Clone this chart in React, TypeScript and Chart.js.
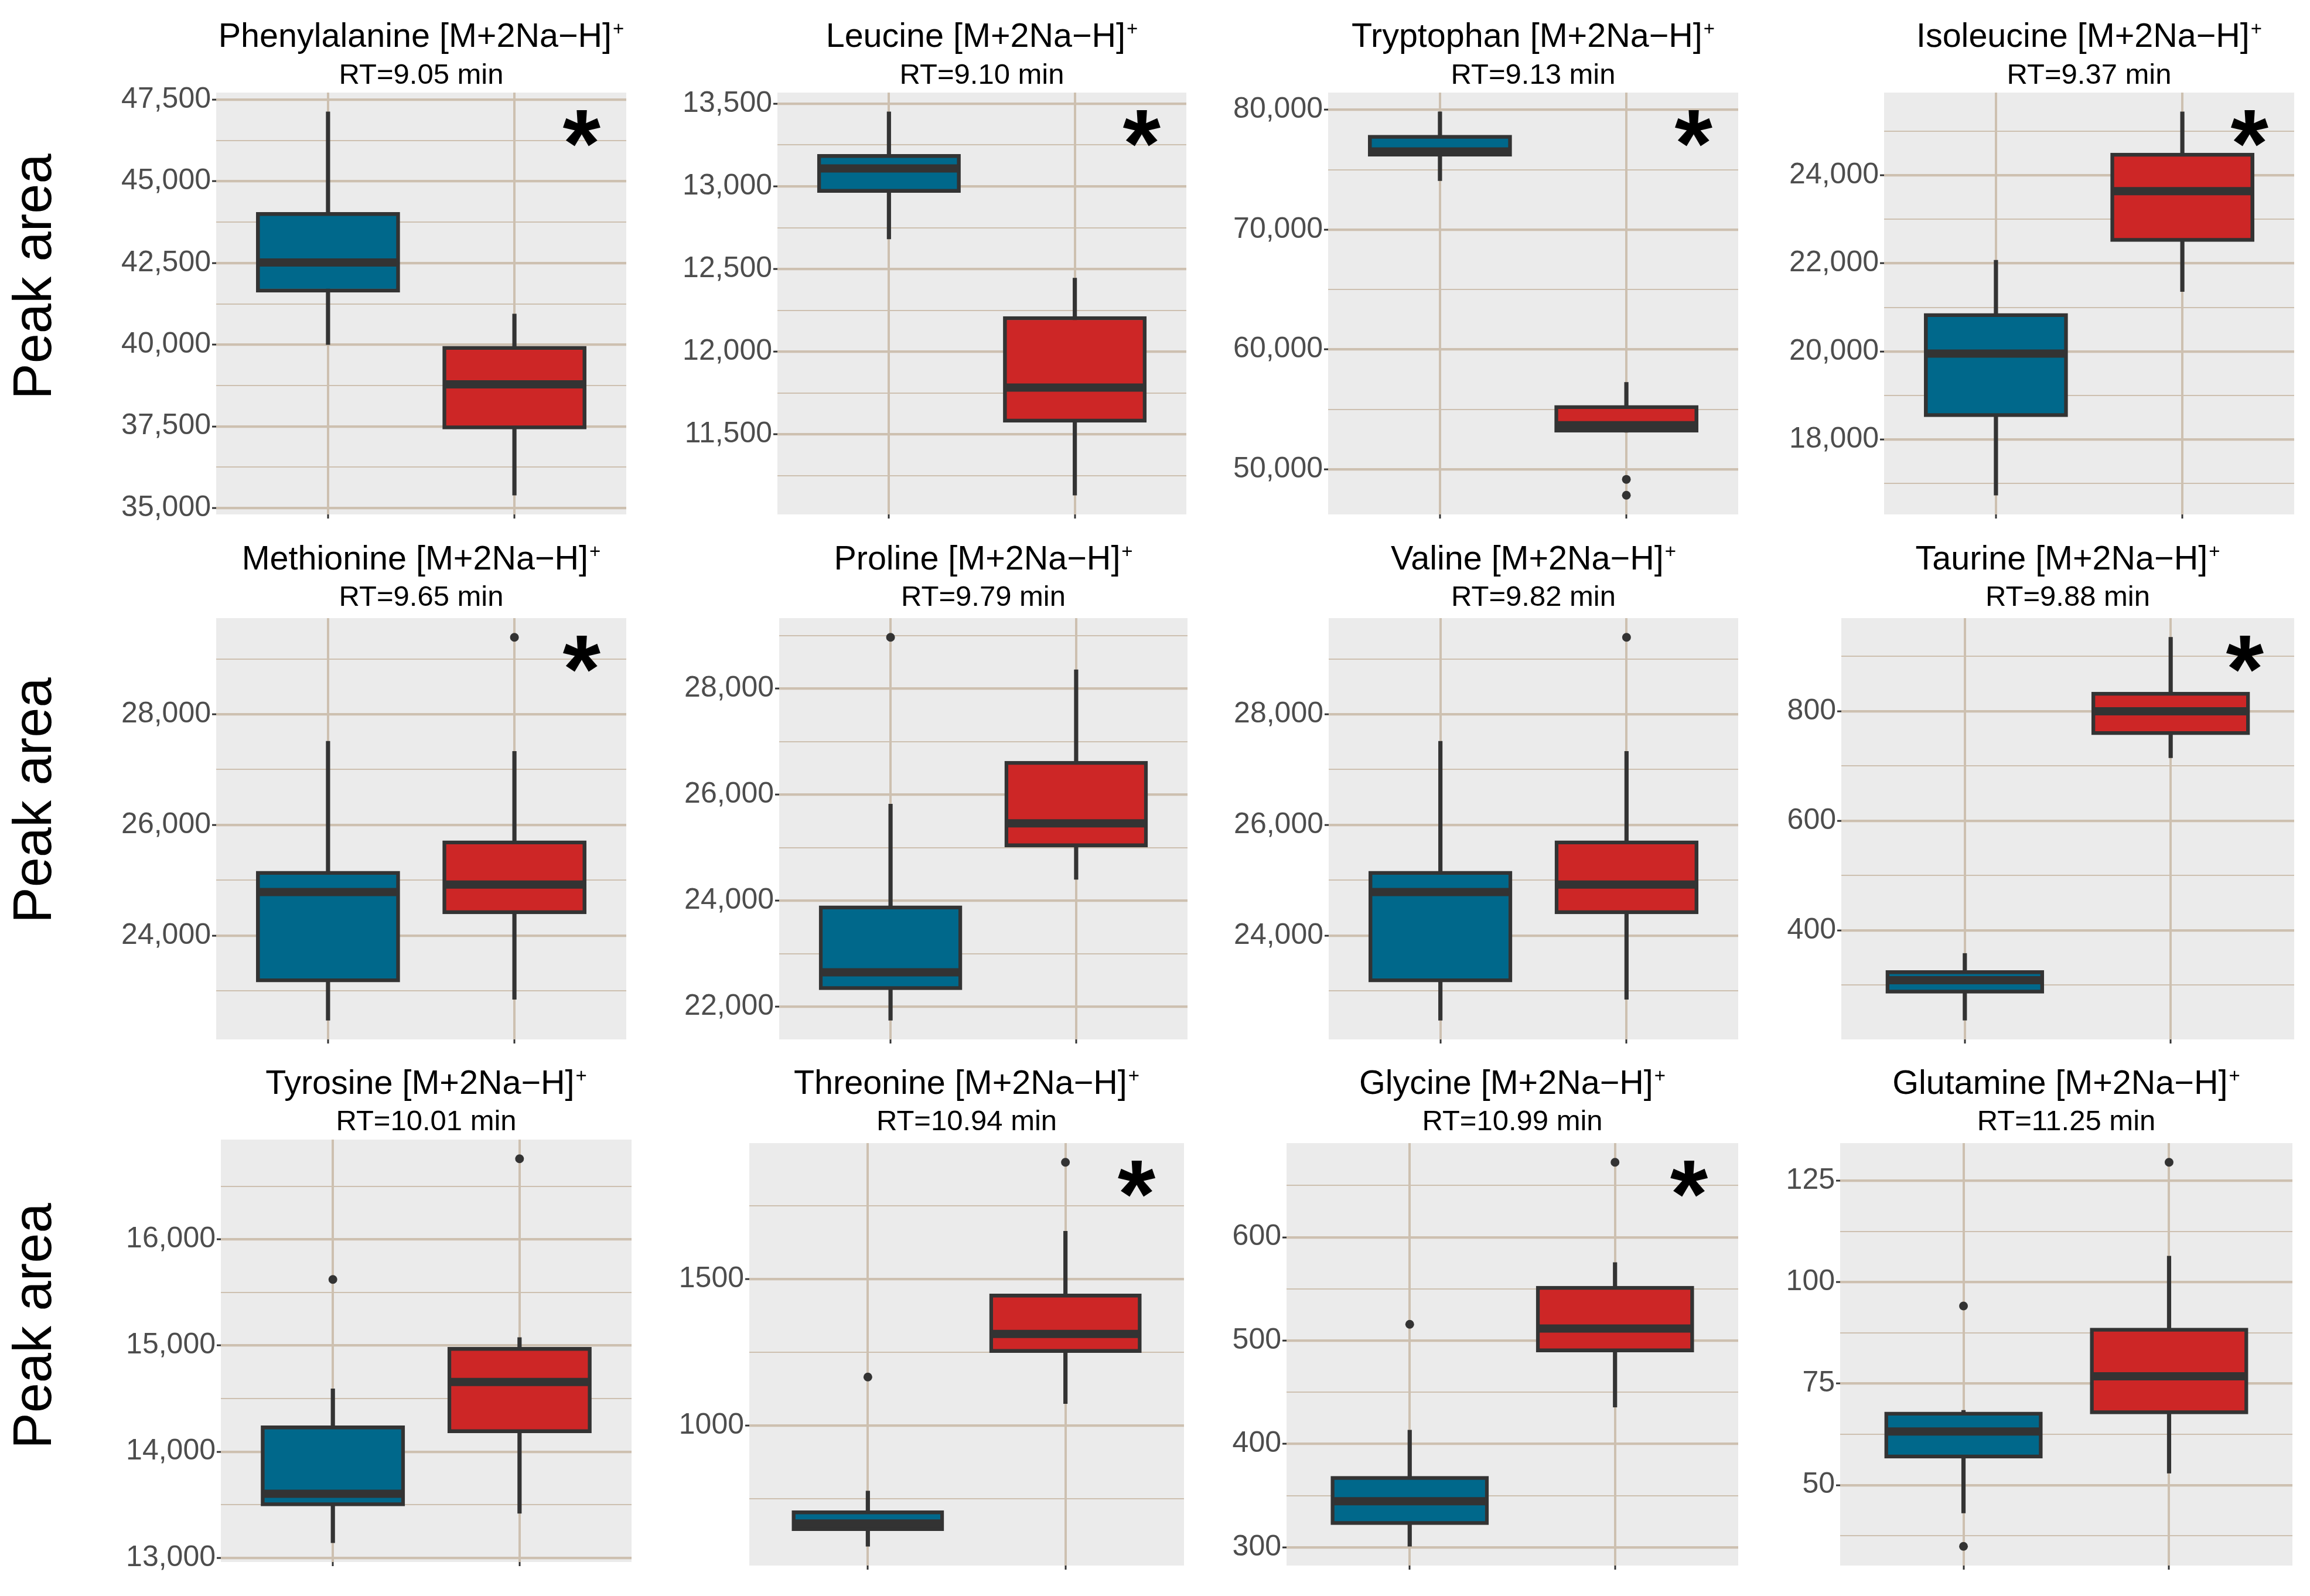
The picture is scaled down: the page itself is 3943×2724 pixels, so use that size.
import React, { useEffect, useRef } from 'react';
import { Chart, registerables } from 'chart.js';

Chart.register(...registerables);

const FONT = "'Liberation Sans', Arial, Helvetica, sans-serif";
Chart.defaults.font.family = FONT;

// ---------------- data ----------------
const compounds = [
  'Phenylalanine', 'Leucine', 'Tryptophan', 'Isoleucine',
  'Methionine', 'Proline', 'Valine', 'Taurine',
  'Tyrosine', 'Threonine', 'Glycine', 'Glutamine',
];
const adduct = '[M+2Na\u2212H]';
const adductCharge = '+';
const retentionTimes = ['9.05', '9.10', '9.13', '9.37', '9.65', '9.79', '9.82', '9.88', '10.01', '10.94', '10.99', '11.25'];
const significant = [true, true, true, true, true, false, false, true, false, true, true, false];
const yAxisTitle = 'Peak area';
const groupPositions = [1, 2];

// five-number summaries: [lower whisker, Q1, median, Q3, upper whisker]
const blueStats = [
  [40000, 41600, 42515, 44050, 47130],
  [12681, 12962, 13108, 13194, 13451],
  [74074, 76105, 76520, 77883, 79831],
  [16732, 18514, 19951, 20865, 22072],
  [22469, 23158, 24786, 25164, 27512],
  [21746, 22319, 22650, 23905, 25822],
  [22469, 23158, 24786, 25164, 27512],
  [236, 285, 309, 327, 358],
  [13141, 13488, 13603, 14245, 14592],
  [588, 641, 666, 710, 777],
  [301, 321.8, 344.6, 368.8, 413.4],
  [43.1, 56.6, 63.2, 68.0, 68.4],
];
const redStats = [
  [35390, 37415, 38785, 39955, 40940],
  [11131, 11572, 11782, 12213, 12445],
  [53080, 53080, 53670, 55336, 57254],
  [21357, 22494, 23639, 24507, 25444],
  [22847, 24390, 24920, 25713, 27329],
  [24402, 25013, 25459, 26631, 28357],
  [22847, 24390, 24920, 25713, 27329],
  [715, 757, 800, 835, 935],
  [13419, 14176, 14657, 14985, 15076],
  [1075, 1249, 1313, 1450, 1664],
  [435.6, 488.9, 511.7, 552.7, 575.5],
  [52.9, 67.5, 76.8, 88.7, 106.4],
];
const blueOutliers = [[], [], [], [], [], [28968], [], [], [15623], [1166], [515.8], [94.1, 34.9]];
const redOutliers = [[], [], [49155, 47829], [], [29390], [], [29390], [], [16760], [1899], [672.5], [129.5]];

const yTickValues = [
  [35000, 37500, 40000, 42500, 45000, 47500],
  [11500, 12000, 12500, 13000, 13500],
  [50000, 60000, 70000, 80000],
  [18000, 20000, 22000, 24000],
  [24000, 26000, 28000],
  [22000, 24000, 26000, 28000],
  [24000, 26000, 28000],
  [400, 600, 800],
  [13000, 14000, 15000, 16000],
  [1000, 1500],
  [300, 400, 500, 600],
  [50, 75, 100, 125],
];
const yTickLabels = [
  ['35,000', '37,500', '40,000', '42,500', '45,000', '47,500'],
  ['11,500', '12,000', '12,500', '13,000', '13,500'],
  ['50,000', '60,000', '70,000', '80,000'],
  ['18,000', '20,000', '22,000', '24,000'],
  ['24,000', '26,000', '28,000'],
  ['22,000', '24,000', '26,000', '28,000'],
  ['24,000', '26,000', '28,000'],
  ['400', '600', '800'],
  ['13,000', '14,000', '15,000', '16,000'],
  ['1000', '1500'],
  ['300', '400', '500', '600'],
  ['50', '75', '100', '125'],
];

// ---------------- layout & style ----------------
// plot-area rectangles [left, top, right, bottom] in page pixels
const PANEL_RECTS = [
  [369, 158, 1069, 878], [1327, 158, 2025, 878], [2267, 158, 2967, 878], [3216, 158, 3916, 878],
  [369, 1055, 1069, 1774], [1330, 1055, 2027, 1774], [2268, 1055, 2967, 1774], [3143, 1055, 3916, 1774],
  [377, 1945, 1078, 2666], [1279, 1951, 2021, 2672], [2196, 1951, 2967, 2672], [3141, 1951, 3913, 2672],
];
const TITLE_BASELINES = [[80, 142.5], [972, 1034], [1867, 1928.5]];
const YLABEL_CENTERS = [472, 1366, 2263];
const YLABEL_BASELINE_X = 87;

const TITLE_SIZE = 57.5;
const SUP_SIZE = 33;
const SUP_RAISE = 20;
const SUB_SIZE = 49;
const TICK_SIZE = 50;
const YLABEL_SIZE = 92;

const GROUP_COLORS = ['#00688B', '#CD2626'];
const LINE_COLOR = '#333333';
const GRID_COLOR = '#CDC0B0';
const PANEL_BG = '#EBEBEB';
const TICK_TEXT = '#4D4D4D';

const X_MIN = 0.4;
const X_MAX = 2.6;
const BOX_WIDTH = 0.75;
const BOX_LINE = 6.5;
const MEDIAN_LINE = 14;
const WHISKER_LINE = 6.5;
const STAR_X = 2.36;
const STAR_DY = 61;
const STAR_H = 63;

const AXIS_W = 210;
const TOP_PAD = 160;
const RIGHT_PAD = 22;
const BOTTOM_PAD = 40;

function geometry(i: number) {
  const [L, T, R, B] = PANEL_RECTS[i];
  const col = i % 4;
  const row = Math.floor(i / 4);
  const axisW = col === 0 ? L : AXIS_W;
  const topPad = Math.min(TOP_PAD, T);
  const x = L - axisW;
  const y = T - topPad;
  const w = axisW + (R - L) + RIGHT_PAD;
  const h = topPad + (B - T) + BOTTOM_PAD;
  return { L, T, R, B, col, row, axisW, topPad, x, y, w, h };
}

const decorPlugin = {
  id: 'panelDecor',
  beforeDraw(chart: any) {
    const { ctx, chartArea: a } = chart;
    ctx.save();
    ctx.fillStyle = PANEL_BG;
    ctx.fillRect(a.left, a.top, a.right - a.left, a.bottom - a.top);
    ctx.restore();
  },
  afterDraw(chart: any, _args: any, o: any) {
    const { ctx, chartArea: a } = chart;
    const cx = (a.left + a.right) / 2;
    ctx.save();
    ctx.fillStyle = '#000000';
    ctx.textBaseline = 'alphabetic';
    // main title with superscript charge
    ctx.font = `${TITLE_SIZE}px ${FONT}`;
    const mw = ctx.measureText(o.title).width;
    ctx.font = `${SUP_SIZE}px ${FONT}`;
    const sw = ctx.measureText(adductCharge).width;
    const x0 = cx - (mw + sw + 2) / 2;
    ctx.textAlign = 'left';
    ctx.font = `${TITLE_SIZE}px ${FONT}`;
    ctx.fillText(o.title, x0, o.titleY);
    ctx.font = `${SUP_SIZE}px ${FONT}`;
    ctx.fillText(adductCharge, x0 + mw + 2, o.titleY - SUP_RAISE);
    // retention time line
    ctx.textAlign = 'center';
    ctx.font = `${SUB_SIZE}px ${FONT}`;
    ctx.fillText(o.subtitle, cx, o.subtitleY);
    // significance asterisk
    if (o.star) {
      const sx = chart.scales.x.getPixelForValue(STAR_X);
      const cy = a.top + STAR_DY;
      ctx.font = `bold 100px ${FONT}`;
      const m = ctx.measureText('*');
      const gh = (m.actualBoundingBoxAscent + m.actualBoundingBoxDescent) || 38;
      const size = (100 * STAR_H) / gh;
      ctx.font = `bold ${size}px ${FONT}`;
      const m2 = ctx.measureText('*');
      const base = cy + (m2.actualBoundingBoxAscent - m2.actualBoundingBoxDescent) / 2;
      ctx.fillText('*', sx, base);
    }
    // y axis title (first column only)
    if (o.yLabel) {
      ctx.translate(o.yLabelX, o.yLabelY);
      ctx.rotate(-Math.PI / 2);
      ctx.textAlign = 'center';
      ctx.textBaseline = 'alphabetic';
      ctx.font = `${YLABEL_SIZE}px ${FONT}`;
      ctx.fillText(o.yLabel, 0, 0);
    }
    ctx.restore();
  },
};

function buildConfig(i: number, g: any) {
  const stats = [blueStats[i], redStats[i]];
  const outs = [blueOutliers[i], redOutliers[i]];
  const all = [...stats[0], ...stats[1], ...outs[0], ...outs[1]];
  const lo = Math.min(...all);
  const hi = Math.max(...all);
  const pad = (hi - lo) * 0.05;
  const yMin = lo - pad;
  const yMax = hi + pad;
  const majors = yTickValues[i];
  const step = majors[1] - majors[0];
  const labelMap = new Map<number, string>(majors.map((v, k) => [v, yTickLabels[i][k]]));
  const tickVals: number[] = majors.filter((v) => v >= yMin && v <= yMax);
  for (let k = -1; k < majors.length; k++) {
    const v = majors[0] + step * (k + 0.5);
    if (v > yMin && v < yMax) tickVals.push(v);
  }
  tickVals.sort((p, q) => p - q);

  const plotW = g.R - g.L;
  const boxPx = (plotW * BOX_WIDTH) / (X_MAX - X_MIN) + BOX_LINE;

  const datasets: any[] = [
    {
      type: 'bar',
      label: 'whiskers',
      order: 4,
      grouped: false,
      data: groupPositions.map((x, k) => ({ x, y: [stats[k][0], stats[k][4]] })),
      backgroundColor: LINE_COLOR,
      borderWidth: 0,
      barThickness: WHISKER_LINE,
      maxBarThickness: WHISKER_LINE,
    },
    {
      type: 'bar',
      label: 'boxes',
      order: 3,
      grouped: false,
      data: groupPositions.map((x, k) => ({ x, y: [stats[k][1], stats[k][3]] })),
      backgroundColor: GROUP_COLORS,
      borderColor: LINE_COLOR,
      borderWidth: BOX_LINE,
      borderSkipped: false,
      barThickness: boxPx,
      maxBarThickness: boxPx,
    },
    ...groupPositions.map((x, k) => ({
      type: 'line',
      label: 'median' + k,
      order: 2,
      data: [
        { x: x - BOX_WIDTH / 2, y: stats[k][2] },
        { x: x + BOX_WIDTH / 2, y: stats[k][2] },
      ],
      borderColor: LINE_COLOR,
      borderWidth: MEDIAN_LINE,
      borderCapStyle: 'butt',
      pointRadius: 0,
      pointHoverRadius: 0,
      fill: false,
      tension: 0,
    })),
    {
      type: 'scatter',
      label: 'outliers',
      order: 1,
      data: groupPositions.flatMap((x, k) => outs[k].map((y) => ({ x, y }))),
      backgroundColor: LINE_COLOR,
      borderWidth: 0,
      pointRadius: 7.5,
      pointHoverRadius: 7.5,
    },
  ];

  const [tY, sY] = TITLE_BASELINES[g.row];

  return {
    type: 'bar',
    data: { datasets },
    options: {
      responsive: false,
      maintainAspectRatio: false,
      animation: false,
      devicePixelRatio: 1,
      events: [],
      layout: { padding: { left: 0, right: RIGHT_PAD, top: g.topPad, bottom: 0 } },
      plugins: {
        legend: { display: false },
        tooltip: { enabled: false },
        title: { display: false },
        panelDecor: {
          title: `${compounds[i]} ${adduct}`,
          subtitle: `RT=${retentionTimes[i]} min`,
          titleY: tY - g.y,
          subtitleY: sY - g.y,
          star: significant[i],
          yLabel: g.col === 0 ? yAxisTitle : '',
          yLabelX: YLABEL_BASELINE_X - g.x,
          yLabelY: YLABEL_CENTERS[g.row] - g.y,
        },
      },
      scales: {
        x: {
          type: 'linear',
          min: X_MIN,
          max: X_MAX,
          offset: false,
          afterBuildTicks: (s: any) => {
            s.ticks = groupPositions.map((v) => ({ value: v }));
          },
          afterFit: (s: any) => {
            s.height = BOTTOM_PAD;
          },
          ticks: { autoSkip: false, callback: () => '', font: { size: 10 } },
          grid: {
            color: GRID_COLOR,
            lineWidth: 4,
            offset: false,
            drawTicks: true,
            tickColor: LINE_COLOR,
            tickLength: 7,
            tickWidth: 3,
          },
          border: { display: false },
        },
        y: {
          type: 'linear',
          min: yMin,
          max: yMax,
          beginAtZero: false,
          afterBuildTicks: (s: any) => {
            s.ticks = tickVals.map((v) => ({ value: v }));
          },
          afterFit: (s: any) => {
            s.width = g.axisW;
          },
          ticks: {
            autoSkip: false,
            padding: 2,
            color: TICK_TEXT,
            font: { size: TICK_SIZE, family: FONT },
            callback: (v: any) => labelMap.get(v) ?? '',
          },
          grid: {
            color: GRID_COLOR,
            lineWidth: (c: any) => (c.tick && labelMap.has(c.tick.value) ? 4.2 : 2),
            tickColor: (c: any) => (c.tick && labelMap.has(c.tick.value) ? LINE_COLOR : 'rgba(0,0,0,0)'),
            drawTicks: true,
            tickLength: 7,
            tickWidth: 3,
          },
          border: { display: false },
        },
      },
    },
    plugins: [decorPlugin],
  };
}

function Panel({ index }: { index: number }) {
  const ref = useRef<HTMLCanvasElement | null>(null);
  const g = geometry(index);
  useEffect(() => {
    if (!ref.current) return;
    const chart = new Chart(ref.current, buildConfig(index, g) as any);
    return () => chart.destroy();
  }, [index]);
  return (
    <canvas
      ref={ref}
      width={g.w}
      height={g.h}
      style={{ position: 'absolute', left: g.x, top: g.y, width: g.w, height: g.h }}
    />
  );
}

export default function App() {
  return (
    <div
      style={{
        position: 'absolute',
        left: 0,
        top: 0,
        width: 3943,
        height: 2724,
        background: '#ffffff',
        overflow: 'hidden',
      }}
    >
      {compounds.map((_, i) => (
        <Panel key={i} index={i} />
      ))}
    </div>
  );
}
